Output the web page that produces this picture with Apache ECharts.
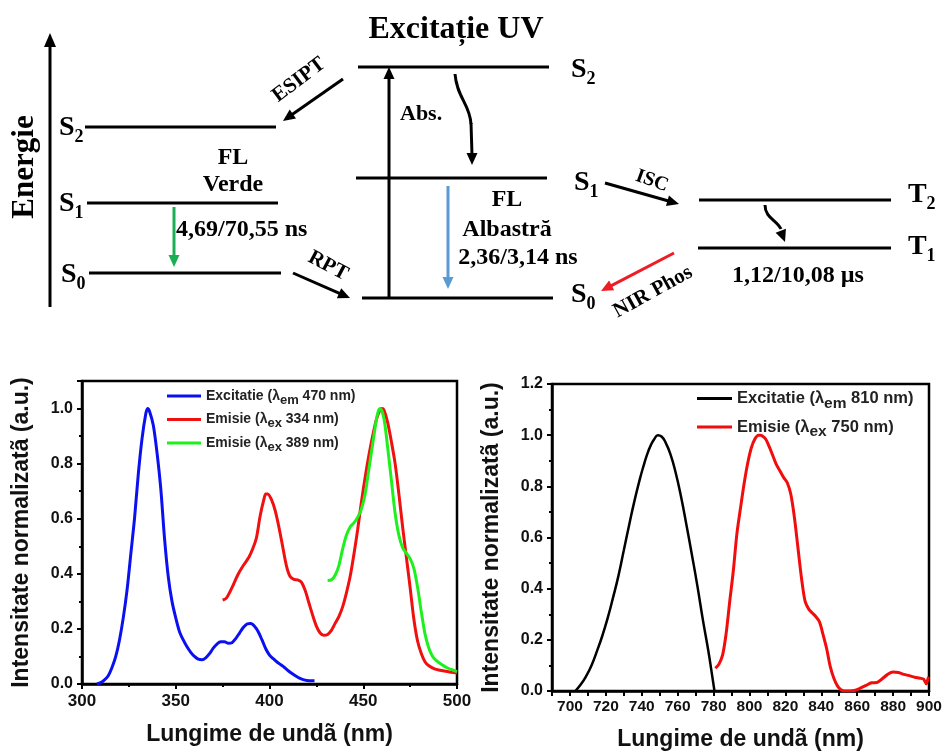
<!DOCTYPE html>
<html><head><meta charset="utf-8">
<script src="https://cdn.jsdelivr.net/npm/echarts@6/dist/echarts.min.js"></script>
<style>html,body{margin:0;padding:0;background:#fff}#c{width:945px;height:753px}</style>
</head><body><div id="c"></div>
<script>
// ---------- DATA ----------
// Left panel: UV region
const blueX = [308,310,312,314,316,318,320,322,324,326,328,330,332,334,335,336,338,340,342,344,346,348,350,352,354,356,358,360,362,364,366,368,370,372,374,376,378,380,382,384,386,388,390,392,394,396,398,400,402,404,406,408,410,412,414,416,418,420,422,424];
const blueY = [0,0.005,0.015,0.03,0.06,0.1,0.16,0.24,0.34,0.47,0.6,0.76,0.89,0.98,1.0,0.99,0.94,0.84,0.71,0.53,0.39,0.3,0.24,0.19,0.16,0.135,0.115,0.1,0.09,0.088,0.095,0.11,0.13,0.145,0.153,0.153,0.148,0.15,0.165,0.185,0.205,0.218,0.22,0.21,0.19,0.16,0.128,0.105,0.092,0.08,0.07,0.06,0.048,0.038,0.029,0.021,0.016,0.013,0.012,0.012];
const redX = [375,377,380,383,386,389,391,393,395,397,398,399,401,403,405,407,409,411,413,415,417,419,421,423,425,427,429,431,433,435,437,439,441,443,445,447,449,451,453,455,457,459,460,461,463,465,467,469,471,473,475,477,479,481,483,485,488,491,494,497,500];
const redY = [0.305,0.312,0.35,0.395,0.43,0.46,0.49,0.53,0.61,0.67,0.69,0.69,0.67,0.63,0.57,0.5,0.43,0.39,0.38,0.378,0.37,0.34,0.295,0.25,0.21,0.185,0.177,0.18,0.195,0.22,0.245,0.28,0.33,0.39,0.47,0.56,0.66,0.75,0.83,0.9,0.96,0.995,1.0,0.995,0.95,0.88,0.8,0.69,0.57,0.46,0.35,0.235,0.155,0.11,0.08,0.066,0.055,0.05,0.046,0.043,0.04];
const greenX = [431,433,435,437,439,441,443,445,447,449,451,453,455,457,458,459,461,463,465,467,469,471,473,475,477,479,481,483,485,487,489,492,495,498,500];
const greenY = [0.376,0.378,0.395,0.43,0.49,0.54,0.57,0.585,0.605,0.635,0.69,0.78,0.87,0.96,0.99,1.0,0.965,0.86,0.74,0.62,0.54,0.495,0.475,0.455,0.42,0.35,0.26,0.18,0.13,0.1,0.085,0.07,0.058,0.05,0.045];
// Right panel: NIR region
const blackX = [703,706,709,712,715,718,721,724,727,730,733,736,739,741,743,745,747,749,751,753,756,759,762,765,768,771,774,777,779,780.5];
const blackY = [0,0.025,0.058,0.1,0.155,0.215,0.285,0.365,0.45,0.55,0.65,0.745,0.83,0.88,0.925,0.96,0.985,1.0,0.995,0.975,0.925,0.85,0.755,0.645,0.53,0.41,0.28,0.16,0.07,0];
const nirX = [781,783,785,787,789,791,793,795,797,799,801,803,805,806,807,809,811,813,815,817,819,821,823,825,827,829,831,833,835,837,839,841,843,845,847,849,851,853,856,859,862,865,868,871,874,877,880,883,886,889,892,895,897,898.5,899.5,900];
const nirY = [0.089,0.105,0.14,0.225,0.35,0.47,0.615,0.715,0.81,0.89,0.95,0.985,1.0,1.0,0.998,0.985,0.955,0.92,0.885,0.86,0.835,0.815,0.77,0.68,0.56,0.44,0.35,0.32,0.305,0.29,0.27,0.22,0.165,0.095,0.05,0.02,0.005,0,0,0.003,0.012,0.022,0.032,0.033,0.048,0.065,0.074,0.072,0.065,0.06,0.054,0.05,0.046,0.028,0.05,0.055];
const leftNames = ['Excitatie (λem 470 nm)','Emisie (λex 334 nm)','Emisie (λex 389 nm)'];
const rightNames = ['Excitatie (λem 810 nm)','Emisie (λex 750 nm)'];
const xAxisTitle = 'Lungime de undã (nm)';
const yAxisTitle = 'Intensitate normalizatã (a.u.)';

// ---------- CHART ----------
const zip = (a,b)=>a.map((v,i)=>[v,b[i]]);
const SANS = 'Liberation Sans, Arial, sans-serif';
const SERIF = 'Liberation Serif, Times New Roman, serif';
const chart = echarts.init(document.getElementById('c'), null, {renderer:'canvas'});

const axisCommon = {
  axisLine:{show:true,onZero:false,lineStyle:{color:'#000',width:2.5}},
  axisTick:{show:true,inside:false,length:5,lineStyle:{color:'#000',width:2}},
  minorTick:{show:true,splitNumber:2,length:3,lineStyle:{color:'#000',width:2}},
  splitLine:{show:false},
  axisLabel:{color:'#111',fontFamily:SANS,fontWeight:'bold',fontSize:17},
  nameLocation:'middle',
  nameTextStyle:{color:'#111',fontFamily:SANS,fontWeight:'bold',fontSize:23}
};
function ax(extra){ return Object.assign({}, JSON.parse(JSON.stringify(axisCommon)), extra); }
const lbl = extra => Object.assign({}, axisCommon.axisLabel, extra);

const legendFmt = n => n.replace(/λ(em|ex)/, '{l|λ}{s|$1}');
function legendText(fs){ return {color:'#222',fontFamily:SANS,fontWeight:'bold',fontSize:fs,
  rich:{l:{fontFamily:SANS,fontWeight:'bold',fontSize:fs,color:'#222'},
        s:{fontFamily:SANS,fontWeight:'bold',fontSize:fs-1,color:'#222',padding:[Math.round(fs*0.6),0,0,0]}}}; }

// ---------- DIAGRAM (schematic annotations) ----------
const G = [];
function seg(x1,y1,x2,y2,c,w){G.push({type:'line',z:10,silent:true,shape:{x1,y1,x2,y2},style:{stroke:c||'#000',lineWidth:w||3}});}
function head(ax_,ay,tx,ty,c,L,W){
  const a=Math.atan2(ty-ay,tx-ax_); L=L||12; W=W||5.5;
  const bx=tx-L*Math.cos(a), by=ty-L*Math.sin(a);
  const px=-Math.sin(a)*W, py=Math.cos(a)*W;
  G.push({type:'polygon',z:10,silent:true,shape:{points:[[tx,ty],[bx+px,by+py],[bx-px,by-py]]},style:{fill:c||'#000'}});
}
function arrow(x1,y1,x2,y2,c,w){const a=Math.atan2(y2-y1,x2-x1);seg(x1,y1,x2-9*Math.cos(a),y2-9*Math.sin(a),c,w);head(x1,y1,x2,y2,c);}
function txt(x,y,s,size,opt){opt=opt||{};
  G.push({type:'text',z:10,silent:true,x:x,y:y,rotation:opt.rot||0,
    style:{text:s,x:0,y:0,fill:'#000',fontFamily:SERIF,fontWeight:'bold',fontSize:size,
      align:opt.align||'center',verticalAlign:'middle'}});}
function lvl(x,y,main,sub){ txt(x,y,main,28,{align:'left'}); const w = main==='T'?18.5:15.5; txt(x+w,y+9,sub,18,{align:'left'}); }
function bez(x1,y1,c1x,c1y,c2x,c2y,x2,y2){G.push({type:'bezierCurve',z:10,silent:true,shape:{x1,y1,x2,y2,cpx1:c1x,cpy1:c1y,cpx2:c2x,cpy2:c2y},style:{stroke:'#000',lineWidth:3,fill:null}});}

// energy axis
seg(50,307,50,44,'#000',3); head(50,60,50,33,'#000',14,6);
txt(25,167,'Energie',31,{rot:Math.PI/2});
txt(456,30,'Excitație UV',32);
// levels
seg(85,127,276,127); seg(87,203,278,203); seg(89,273,281,273);
seg(358,67,549,67); seg(356,178,547,178); seg(362,298,553,298);
seg(699,200,891,200); seg(698,248,891,248);
lvl(59,128,'S','2'); lvl(59,204,'S','1'); lvl(61,275,'S','0');
lvl(571,70,'S','2'); lvl(574,183,'S','1'); lvl(571,295,'S','0');
lvl(908,195,'T','2'); lvl(908,247,'T','1');
// texts
txt(233,158,'FL',24); txt(233,185,'Verde',24);
txt(176,230,'4,69/70,55 ns',24,{align:'left'});
txt(299,80,'ESIPT',21,{rot:37*Math.PI/180});
txt(328,266,'RPT',21,{rot:-28*Math.PI/180});
txt(400,114,'Abs.',22,{align:'left'});
txt(507,200,'FL',24); txt(507,230,'Albastră',24); txt(518,258,'2,36/3,14 ns',24);
txt(652,181,'ISC',20,{rot:-20*Math.PI/180});
txt(653,292,'NIR Phos',21,{rot:29*Math.PI/180});
txt(798,276,'1,12/10,08 µs',24);
// arrows
arrow(343,79,283,121); arrow(293,273,350,298);
arrow(389,298,389,67);
arrow(174,207,174,267,'#1aaf54',3);
arrow(448,186,448,289,'#5b9bd5',3);
arrow(605,183,679,204);
arrow(674,253,601,291,'#ee1c25',3);
bez(455,74,457,98,470,104,471,124); seg(471,123,472,155); head(472,140,472,165,'#000',12,5.5);
bez(765,205,765,218,777,220,781,229); head(779,226,785,242,'#000',12,5.5);

const option = {
  backgroundColor:'#fff',
  animation:false,
  graphic: G,
  grid:[
    {left:82,top:381,width:375,height:303,show:true,borderColor:'#000',borderWidth:2.5,containLabel:false},
    {left:552,top:384,width:377,height:307,show:true,borderColor:'#000',borderWidth:2.5,containLabel:false}
  ],
  xAxis:[
    ax({type:'value',gridIndex:0,min:300,max:500,interval:50,name:xAxisTitle,nameGap:39,
        axisLabel:lbl({margin:9})}),
    ax({type:'value',gridIndex:1,min:690,max:900,interval:10,name:xAxisTitle,nameGap:37,
        minorTick:{show:false},
        axisLabel:lbl({margin:8,fontSize:15.5,formatter:v=>(v%20===0?String(v):'')})})
  ],
  yAxis:[
    ax({type:'value',gridIndex:0,min:0,max:1.1,interval:0.2,name:yAxisTitle,nameGap:49,
        axisLabel:lbl({margin:9,fontSize:16,showMaxLabel:false,formatter:v=>v.toFixed(1)})}),
    ax({type:'value',gridIndex:1,min:0,max:1.2,interval:0.2,name:yAxisTitle,nameGap:49,
        axisLabel:lbl({margin:9,fontSize:16,formatter:v=>v.toFixed(1)})})
  ],
  legend:[
    {data:leftNames,left:167,top:389,orient:'vertical',itemWidth:34,itemHeight:3,itemGap:6,icon:'rect',
     selectedMode:false,formatter:legendFmt,textStyle:legendText(14),padding:0},
    {data:rightNames,left:697,top:390,orient:'vertical',itemWidth:35,itemHeight:3,itemGap:7,icon:'rect',
     selectedMode:false,formatter:legendFmt,textStyle:legendText(16.5),padding:0}
  ],
  series:[
    {name:leftNames[0],type:'line',xAxisIndex:0,yAxisIndex:0,data:zip(blueX,blueY),showSymbol:false,smooth:0.3,lineStyle:{color:'#0a10f0',width:3},itemStyle:{color:'#0a10f0'}},
    {name:leftNames[1],type:'line',xAxisIndex:0,yAxisIndex:0,data:zip(redX,redY),showSymbol:false,smooth:0.3,lineStyle:{color:'#f01010',width:3},itemStyle:{color:'#f01010'}},
    {name:leftNames[2],type:'line',xAxisIndex:0,yAxisIndex:0,data:zip(greenX,greenY),showSymbol:false,smooth:0.3,lineStyle:{color:'#1ef01e',width:3},itemStyle:{color:'#1ef01e'}},
    {name:rightNames[0],type:'line',xAxisIndex:1,yAxisIndex:1,data:zip(blackX,blackY),showSymbol:false,smooth:0.5,lineStyle:{color:'#000',width:2.5},itemStyle:{color:'#000'}},
    {name:rightNames[1],type:'line',xAxisIndex:1,yAxisIndex:1,data:zip(nirX,nirY),showSymbol:false,smooth:0.3,lineStyle:{color:'#f20d0d',width:3},itemStyle:{color:'#f20d0d'}}
  ]
};
chart.setOption(option);
</script>
</body></html>
